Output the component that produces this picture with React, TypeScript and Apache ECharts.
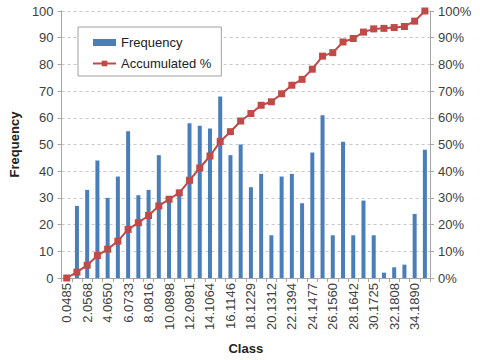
import React, { useEffect, useRef } from "react";
import * as echarts from "echarts";

const classes = [
  "0.0485", "1.0526", "2.0568", "3.0609", "4.0650", "5.0692", "6.0733", "7.0774", "8.0816", "9.0857",
  "10.0898", "11.0940", "12.0981", "13.1022", "14.1064", "15.1105", "16.1146", "17.1188", "18.1229", "19.1270",
  "20.1312", "21.1353", "22.1394", "23.1436", "24.1477", "25.1518", "26.1560", "27.1601", "28.1642", "29.1684",
  "30.1725", "31.1766", "32.1808", "33.1849", "34.1890", "35.1931",
];

const frequency = [
  0, 27, 33, 44, 30, 38, 55, 31, 33, 46,
  30, 31, 58, 57, 56, 68, 46, 50, 34, 39,
  16, 38, 39, 28, 47, 61, 16, 51, 16, 29,
  16, 2, 4, 5, 24, 48,
];

const accumulated = [
  0, 2.2, 4.8, 8.4, 10.8, 13.8, 18.2, 20.7, 23.4, 27.0,
  29.5, 31.9, 36.6, 41.2, 45.7, 51.1, 54.8, 58.8, 61.6, 64.7,
  66.0, 69.0, 72.2, 74.4, 78.2, 83.1, 84.4, 88.4, 89.7, 92.1,
  93.3, 93.5, 93.8, 94.2, 96.2, 100,
];

const leftTicks = [0, 100, 10];
const rightTicks = [0, 100, 10];

const FONT = "Arial, 'Liberation Sans', sans-serif";
const TEXT = "#404040";

export default function App() {
  const ref = useRef<HTMLDivElement>(null);
  useEffect(() => {
    const chart = echarts.init(ref.current!, null, { renderer: "svg" });
    chart.setOption({
      animation: false,
      textStyle: { fontFamily: FONT },
      grid: { left: 55, right: 50, top: 11, bottom: 82 },
      legend: {
        orient: "vertical",
        left: 78,
        top: 27,
        padding: [9, 10, 6, 14],
        itemGap: 8,
        itemWidth: 23,
        itemHeight: 7,
        borderColor: "#a0a0a0",
        borderWidth: 1,
        backgroundColor: "#fff",
        textStyle: { fontFamily: FONT, fontSize: 13, color: "#222" },
        data: [
          { name: "Frequency", icon: "rect" },
          { name: "Accumulated %" },
        ],
      },
      xAxis: {
        type: "category",
        data: classes,
        boundaryGap: true,
        name: "Class",
        nameLocation: "middle",
        nameGap: 64,
        nameTextStyle: { fontFamily: FONT, fontSize: 13, fontWeight: "bold", color: "#222" },
        axisLine: { lineStyle: { color: "#a6a6a6" } },
        axisTick: { show: true, interval: 0, length: 4, lineStyle: { color: "#a6a6a6" } },
        axisLabel: {
          interval: 1,
          rotate: 90,
          fontSize: 13,
          color: TEXT,
          fontFamily: FONT,
          margin: 5,
        },
      },
      yAxis: [
        {
          type: "value",
          min: leftTicks[0],
          max: leftTicks[1],
          interval: leftTicks[2],
          name: "Frequency",
          nameLocation: "middle",
          nameGap: 38,
          nameTextStyle: { fontFamily: FONT, fontSize: 13, fontWeight: "bold", color: "#222" },
          axisLine: { show: true, lineStyle: { color: "#a6a6a6" } },
          axisTick: { show: true, length: 4, lineStyle: { color: "#a6a6a6" } },
          axisLabel: { fontSize: 13, color: TEXT, fontFamily: FONT, margin: 8 },
          splitLine: { show: true, lineStyle: { color: "#c8c8c8", type: [3, 3] } },
        },
        {
          type: "value",
          min: rightTicks[0],
          max: rightTicks[1],
          interval: rightTicks[2],
          position: "right",
          axisLine: { show: true, lineStyle: { color: "#a6a6a6" } },
          axisTick: { show: true, length: 4, lineStyle: { color: "#a6a6a6" } },
          axisLabel: { fontSize: 13, color: TEXT, fontFamily: FONT, margin: 8, formatter: "{value}%" },
          splitLine: { show: false },
        },
      ],
      series: [
        {
          name: "Frequency",
          type: "bar",
          data: frequency,
          barWidth: 4,
          itemStyle: { color: "#4a7ebb" },
        },
        {
          name: "Accumulated %",
          type: "line",
          yAxisIndex: 1,
          data: accumulated,
          symbol: "rect",
          symbolSize: 7,
          showAllSymbol: true,
          lineStyle: { color: "#be4b48", width: 2 },
          itemStyle: { color: "#be4b48" },
        },
      ],
    });
    return () => chart.dispose();
  }, []);
  return <div ref={ref} style={{ width: 480, height: 360, position: "absolute", left: 0, top: 0 }} />;
}
